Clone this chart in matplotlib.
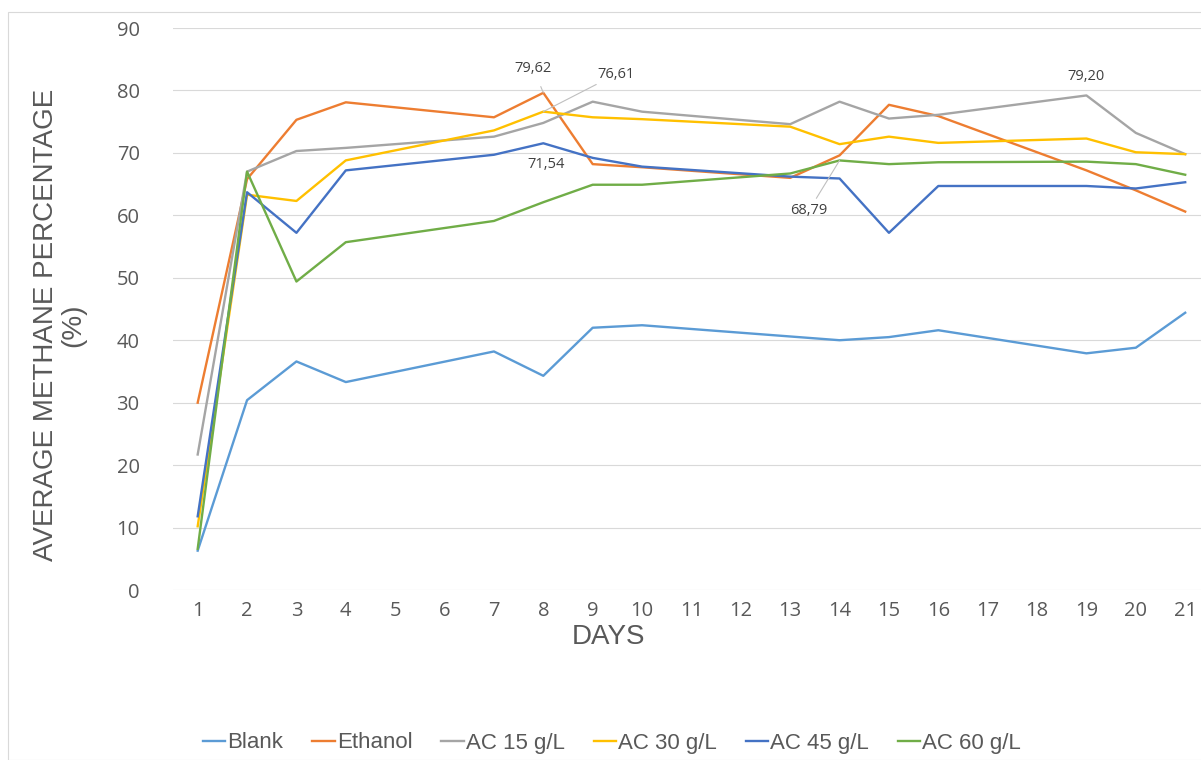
import matplotlib.pyplot as plt
import numpy as np
import pandas as pd
from matplotlib.patches import Rectangle

# days with measurements
days = [1, 2, 3, 4, 7, 8, 9, 10, 13, 14, 15, 16, 19, 20, 21]

blank = [6.3, 30.4, 36.6, 33.3, 38.2, 34.3, 42.0, 42.4, 40.6, 40.0, 40.5, 41.6, 37.9, 38.8, 44.4]
ethanol = [30.0, 65.8, 75.3, 78.1, 75.7, 79.62, 68.2, 67.7, 66.0, 69.6, 77.7, 75.9, 67.2, 64.0, 60.6]
ac15 = [21.7, 67.0, 70.3, 70.8, 72.6, 74.8, 78.2, 76.6, 74.6, 78.2, 75.5, 76.1, 79.20, 73.2, 69.8]
ac30 = [10.2, 63.3, 62.3, 68.8, 73.6, 76.61, 75.7, 75.4, 74.2, 71.4, 72.6, 71.6, 72.3, 70.1, 69.8]
ac45 = [11.8, 63.7, 57.2, 67.2, 69.7, 71.54, 69.2, 67.8, 66.2, 65.9, 57.2, 64.7, 64.7, 64.3, 65.3]
ac60 = [6.6, 67.0, 49.4, 55.7, 59.1, 62.1, 64.9, 64.9, 66.7, 68.79, 68.2, 68.5, 68.6, 68.2, 66.5]

series = ["Blank", "Ethanol", "AC 15 g/L", "AC 30 g/L", "AC 45 g/L", "AC 60 g/L"]
colors = ["#5B9BD5", "#ED7D31", "#A5A5A5", "#FFC000", "#4472C4", "#70AD47"]

df = pd.DataFrame({"Day": days, "Blank": blank, "Ethanol": ethanol, "AC 15 g/L": ac15,
                   "AC 30 g/L": ac30, "AC 45 g/L": ac45, "AC 60 g/L": ac60})

# ticks and data labels in Open Sans, titles and legend in a narrower face
plt.rcParams["font.family"] = ["Open Sans", "DejaVu Sans"]
NARROW = ["Liberation Sans", "DejaVu Sans"]

fig = plt.figure(figsize=(12.01, 7.6), dpi=100)
fig.patches.append(Rectangle((8 / 1201, 0), 1.2, 1 - 12 / 760, transform=fig.transFigure,
                             fill=False, edgecolor="#D9D9D9", lw=0.8))
ax = fig.add_axes([173 / 1201, 1 - 590 / 760, 1 - 173 / 1201, (590 - 28) / 760])

for name, c in zip(series, colors):
    ax.plot(df["Day"], df[name], color=c, lw=1.7, label=name)

ax.set_xlim(0.5, 21.32)
ax.set_ylim(0, 90)
ax.set_xticks(range(1, 22))
ax.set_yticks(range(0, 91, 10))
ax.tick_params(length=0, labelsize=14.5, labelcolor="#595959", pad=8)
ax.tick_params(axis="y", pad=24)
ax.grid(axis="y", color="#D9D9D9", lw=0.8)
ax.set_axisbelow(True)
for s in ax.spines.values():
    s.set_visible(False)

ax.set_xlabel("DAYS", fontsize=20, color="#595959", family=NARROW)
ax.xaxis.set_label_coords((608 - 173) / 1028, (590 - 624) / 562)
ax.set_ylabel("AVERAGE METHANE PERCENTAGE\n(%)", fontsize=20, color="#595959",
              linespacing=1.05, family=NARROW)
ax.yaxis.set_label_coords((86 - 173) / 1028, (590 - 325) / 562)

# data labels with leader lines
lc = "#BFBFBF"
tc = "#404040"
ax.annotate("79,62", xy=(8, ethanol[5]), xytext=(7.8, 83.5), fontsize=10.5, color=tc,
            ha="center", va="center",
            arrowprops=dict(arrowstyle="-", color=lc, lw=0.8, shrinkA=6, shrinkB=0))
ax.annotate("76,61", xy=(8, ac30[5]), xytext=(9.1, 82.6), fontsize=10.5, color=tc,
            ha="left", va="center",
            arrowprops=dict(arrowstyle="-", color=lc, lw=0.8, shrinkA=0, shrinkB=0))
ax.text(8.05, 68.2, "71,54", fontsize=10.5, color=tc, ha="center", va="center")
ax.annotate("68,79", xy=(14, ac60[9]), xytext=(13.75, 60.7), fontsize=10.5, color=tc,
            ha="right", va="center",
            arrowprops=dict(arrowstyle="-", color=lc, lw=0.8, shrinkA=2, shrinkB=0))
ax.text(19, 82.3, "79,20", fontsize=10.5, color=tc, ha="center", va="center")

leg = fig.legend(loc="center", bbox_to_anchor=(612 / 1201, 1 - 743 / 760), ncol=6,
                 frameon=False, handlelength=1.0, handletextpad=0.1,
                 columnspacing=1.3, prop={"family": NARROW, "size": 16})
for t in leg.get_texts():
    t.set_color("#595959")

fig.savefig("out.png", dpi=100)
